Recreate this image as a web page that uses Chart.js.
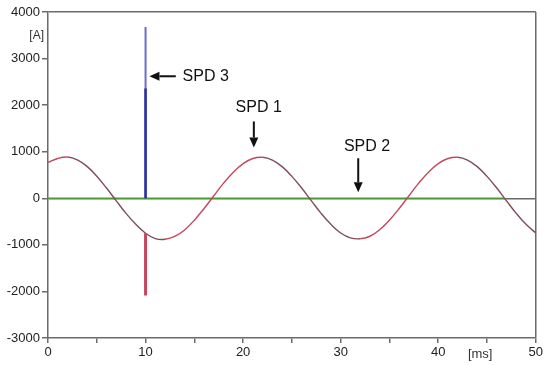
<!DOCTYPE html>
<html>
<head>
<meta charset="utf-8">
<script src="https://cdn.jsdelivr.net/npm/chart.js@4.4.1/dist/chart.umd.min.js"></script>
<style>
  body { margin: 0; background: #fff; }
  canvas { display: block; }
</style>
</head>
<body>
<canvas id="surgeChart" width="545" height="365"></canvas>
<script>
// Mains current through the surge protective devices, sampled every 1 ms
const timeMs = [];
for (let t = 0; t <= 50; t++) timeMs.push(t);
const mainsCurrent = [
  770, 855, 885, 825, 685, 475, 220, -55, -325, -560,
  -750, -865, -880, -820, -680, -470, -220, 55, 325, 560,
  745, 855, 880, 820, 680, 470, 220, -55, -325, -560,
  -745, -850, -870, -815, -675, -470, -220, 55, 325, 560,
  745, 855, 880, 820, 680, 470, 220, -55, -325, -560,
  -745
];

// Surge pulse at 10 ms
const spikeTime = 10;
const spd1Spike = [-750, -2085];   // SPD 1 (red) dips down
const spd3Spike = [0, 3680];       // SPD 3 full peak
const spd3Core = [0, 2360];        // SPD 3 dense part of the pulse

// SPD 2 stays at zero
const spd2Times = [0, 46.7];
const spd2Current = [0, 0];

const yTicks = [4000, 3000, 2000, 1000, 0, -1000, -2000, -3000];

const RED = "#c5475e";
const DARK = "#7d4e5c";
const AXIS = "#6b6b6b";
const FONT = "'Liberation Sans', Arial, sans-serif";

const toPoints = (xs, ys) => xs.map((x, i) => ({ x: x, y: ys[i] }));
const spikePoints = (ys) => ys.map((y) => ({ x: spikeTime, y: y }));

// Labels and arrows placed in data coordinates
const annotations = [
  { text: "SPD 3", x: 13.8, y: 2620, align: "left", arrow: { from: [13.1, 2620], to: [10.4, 2620] } },
  { text: "SPD 1", x: 21.6, y: 1950, align: "center", arrow: { from: [21.1, 1650], to: [21.1, 1090] } },
  { text: "SPD 2", x: 32.7, y: 1100, align: "center", arrow: { from: [31.8, 860], to: [31.8, 130] } },
];

function drawArrow(ctx, x1, y1, x2, y2) {
  const ang = Math.atan2(y2 - y1, x2 - x1);
  const head = 10, half = 4.5;
  const bx = x2 - head * Math.cos(ang);
  const by = y2 - head * Math.sin(ang);
  ctx.beginPath();
  ctx.moveTo(x1, y1);
  ctx.lineTo(bx, by);
  ctx.stroke();
  ctx.beginPath();
  ctx.moveTo(x2, y2);
  ctx.lineTo(bx - half * Math.sin(ang), by + half * Math.cos(ang));
  ctx.lineTo(bx + half * Math.sin(ang), by - half * Math.cos(ang));
  ctx.closePath();
  ctx.fill();
}

const labelPlugin = {
  id: "labels",
  afterDraw(chart) {
    const { ctx, scales } = chart;
    const sx = scales.x, sy = scales.y;
    ctx.save();
    ctx.fillStyle = "#111";
    ctx.strokeStyle = "#111";
    ctx.lineWidth = 2;
    ctx.font = "16px " + FONT;
    ctx.textBaseline = "middle";
    annotations.forEach((a) => {
      ctx.textAlign = a.align;
      ctx.fillText(a.text, sx.getPixelForValue(a.x), sy.getPixelForValue(a.y));
      drawArrow(
        ctx,
        sx.getPixelForValue(a.arrow.from[0]), sy.getPixelForValue(a.arrow.from[1]),
        sx.getPixelForValue(a.arrow.to[0]), sy.getPixelForValue(a.arrow.to[1])
      );
    });
    // unit labels
    ctx.fillStyle = "#333";
    ctx.font = "12px " + FONT;
    ctx.textAlign = "right";
    ctx.fillText("[A]", sx.left - 4, sy.getPixelForValue(3500));
    ctx.textAlign = "center";
    ctx.font = "13px " + FONT;
    ctx.fillText("[ms]", sx.getPixelForValue(44.3), sy.bottom + 16);
    ctx.restore();
  },
};

new Chart(document.getElementById("surgeChart"), {
  type: "line",
  data: {
    datasets: [
      {
        label: "SPD 3 core",
        data: spikePoints(spd3Core),
        borderColor: "#2b2f9c",
        borderWidth: 2.5,
        pointRadius: 0,
        order: 0,
      },
      {
        label: "SPD 3",
        data: spikePoints(spd3Spike),
        borderColor: "#6b6bd0",
        borderWidth: 2,
        pointRadius: 0,
        order: 1,
      },
      {
        label: "SPD 1 pulse",
        data: spikePoints(spd1Spike),
        borderColor: RED,
        borderWidth: 3,
        pointRadius: 0,
        order: 2,
      },
      {
        label: "SPD 1",
        data: toPoints(timeMs, mainsCurrent),
        borderColor: RED,
        borderWidth: 1.4,
        pointRadius: 0,
        tension: 0.4,
        segment: {
          borderColor: (c) => (c.p1.parsed.y > c.p0.parsed.y ? RED : DARK),
        },
        order: 3,
      },
      {
        label: "SPD 2",
        data: toPoints(spd2Times, spd2Current),
        borderColor: "#4c9a36",
        borderWidth: 1.6,
        pointRadius: 0,
        order: 4,
      },
    ],
  },
  options: {
    responsive: false,
    animation: false,
    layout: { autoPadding: false, padding: { top: 12, right: 8, left: 0, bottom: 0 } },
    plugins: { legend: { display: false }, tooltip: { enabled: false } },
    scales: {
      x: {
        type: "linear",
        min: 0,
        max: 50,
        afterFit: (s) => { s.height = 27; },
        border: { color: AXIS, width: 1.5 },
        grid: {
          color: (c) => (c.tick && c.tick.value === 50 ? AXIS : "transparent"),
          tickColor: AXIS,
          tickLength: 5,
          lineWidth: 1.5,
        },
        ticks: {
          stepSize: 5,
          autoSkip: false,
          maxRotation: 0,
          padding: 2,
          color: "#222",
          font: { family: FONT, size: 13 },
          callback: (v) => (v % 10 === 0 ? String(v) : ""),
        },
      },
      y: {
        min: -3000,
        max: 4000,
        afterFit: (s) => { s.width = 48; },
        afterBuildTicks: (s) => { s.ticks = yTicks.map((v) => ({ value: v })); },
        border: { color: AXIS, width: 1.5 },
        grid: {
          color: (c) => (c.tick && (c.tick.value === 0 || c.tick.value === 4000) ? AXIS : "transparent"),
          tickColor: AXIS,
          tickLength: 6,
          lineWidth: 1.5,
        },
        ticks: {
          padding: 2,
          color: "#222",
          font: { family: FONT, size: 13 },
          callback: (v) => String(v),
        },
      },
    },
  },
  plugins: [labelPlugin],
});
</script>
</body>
</html>
